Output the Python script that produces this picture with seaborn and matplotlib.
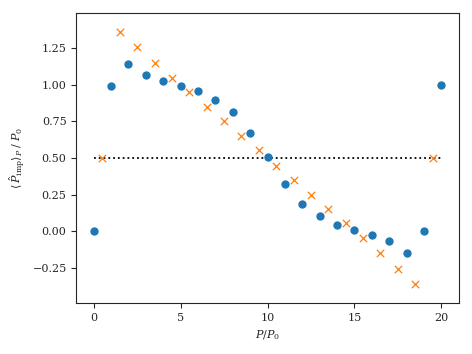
import numpy as np
import pandas as pd
import matplotlib
matplotlib.use("Agg")
import matplotlib.pyplot as plt
import seaborn as sns

# values
p_int = list(range(0, 21))
p_imp_int = [0.0, 0.99, 1.143, 1.063, 1.025, 0.99, 0.954, 0.897, 0.811, 0.672, 0.509,
             0.321, 0.188, 0.102, 0.045, 0.007, -0.027, -0.066, -0.146, 0.004, 1.0]

p_half = [i + 0.5 for i in range(0, 20)]
p_imp_half = [0.5, 1.356, 1.256, 1.145, 1.043, 0.947, 0.847, 0.754, 0.650, 0.552,
              0.445, 0.348, 0.245, 0.150, 0.055, -0.046, -0.146, -0.259, -0.357, 0.5]

ref_x = [0, 20]
ref_y = [0.5, 0.5]

sns.set_style("ticks")
plt.rcParams['font.family'] = ['DejaVu Serif']
plt.rcParams['mathtext.fontset'] = 'dejavuserif'
plt.rcParams['font.size'] = 8

fig = plt.figure(figsize=(4.72, 3.54), dpi=100)
ax = fig.add_axes([0.1617, 0.1432, 0.8101, 0.8201])

df_int = pd.DataFrame({'P': p_int, 'Pimp': p_imp_int})
df_half = pd.DataFrame({'P': p_half, 'Pimp': p_imp_half})

sns.scatterplot(data=df_int, x='P', y='Pimp', ax=ax, color='#1f77b4', s=36,
                linewidth=0, zorder=3)
sns.scatterplot(data=df_half, x='P', y='Pimp', ax=ax, color='#ff7f0e', marker='x',
                s=28, linewidth=0.9, zorder=3)
ax.plot(ref_x, ref_y, color='black', linestyle=':', linewidth=1.3, zorder=2)

ax.set_xlim(-1, 21)
ax.set_ylim(-0.49, 1.488)
ax.set_xticks([0, 5, 10, 15, 20])
ax.set_yticks([-0.25, 0.0, 0.25, 0.5, 0.75, 1.0, 1.25])
ax.set_xlabel(r'$P/P_0$')
ax.set_ylabel(r'$\langle\,\hat{P}_{\rm imp}\rangle_P\;/\;P_0$')
for s in ax.spines.values():
    s.set_visible(True)
    s.set_linewidth(0.8)

fig.savefig('out.png', dpi=100)
